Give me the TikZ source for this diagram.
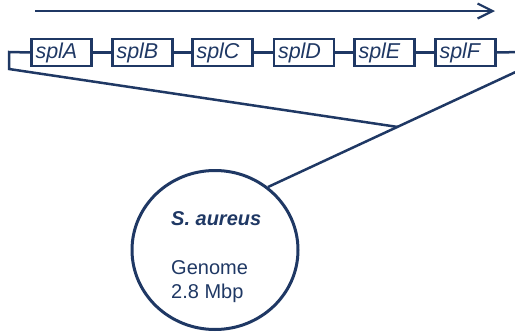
\documentclass[tikz,border=0pt]{standalone}
\usepackage{fontspec}
\setmainfont{Liberation Sans}
\usetikzlibrary{arrows.meta,shapes.geometric}
\definecolor{navy}{RGB}{31,56,100}
\begin{document}
\begin{tikzpicture}[x=1pt,y=-1pt,
  link/.style={draw=navy, line width=2.5pt},
  genebox/.style={draw=navy, line width=2.5pt, minimum width=60pt, minimum height=27pt,
    inner sep=0pt, text width=52pt, align=left, text=navy,
    font=\itshape\fontsize{21.5}{21.5}\selectfont},
  label/.style={anchor=west, inner sep=0pt, text=navy, font=\fontsize{20}{22}\selectfont}]
\useasboundingbox (0,0) rectangle (515,335);
\clip (0,0) rectangle (515,335);
% arrow
\coordinate (as) at (35,11);
\coordinate (ae) at (495,11);
\draw[link, line width=2.2pt, -{Straight Barb[length=15pt,width=15pt,line width=2.2pt]}] (as) -- (ae);
% gene boxes
\node[genebox] (A) at (61.5,52.5) {splA};
\node[genebox] (B) at (142.5,52.5) {splB};
\node[genebox] (C) at (222.5,52.5) {splC};
\node[genebox] (D) at (304,52.5) {splD};
\node[genebox] (E) at (384.5,52.5) {splE};
\node[genebox] (F) at (465.5,52.5) {splF};
\draw[link] (A) -- (B);
\draw[link] (B) -- (C);
\draw[link] (C) -- (D);
\draw[link] (D) -- (E);
\draw[link] (E) -- (F);
% brackets and zoom lines
\coordinate (LT) at (9,52);
\coordinate (LB) at (9,69);
\coordinate (X) at (398,127);
\coordinate (RT) at (521,52);
\coordinate (RB) at (521,69.5);
\coordinate (CR) at (268,187);
\draw[link, line join=miter] (A.west) -- (LT) -- (LB) -- (X);
\draw[link, line join=miter] (F.east) -- (RT) -- (RB) -- (CR);
% circle
\node[ellipse, draw=navy, line width=3pt, minimum width=166pt, minimum height=159pt] (circ) at (215,250) {};
\node[label, font=\bfseries\itshape\fontsize{20}{22}\selectfont] (sa) at (171,219) {S. aureus};
\node[label] (gen) at (171,268) {Genome};
\node[label] (mb) at (171,293) {2.8 Mbp};
\end{tikzpicture}
\end{document}
